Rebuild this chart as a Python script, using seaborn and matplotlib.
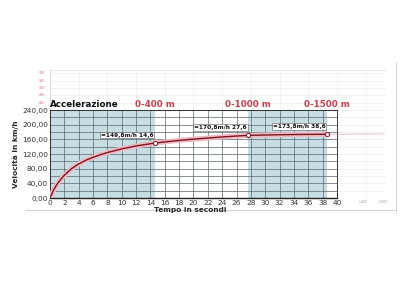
import matplotlib
matplotlib.use("Agg")
import matplotlib.pyplot as plt
import seaborn as sns
import pandas as pd
import numpy as np
from matplotlib.lines import Line2D

sns.set_style("white")
plt.rcParams['font.family'] = ['DejaVu Sans']

# ---- data ----
time_s = [0, 0.5, 1, 1.5, 2, 3, 4, 5, 6, 7, 8, 10, 12, 14.6, 16, 18, 20, 22, 24, 26, 27.6, 30, 32, 34, 36, 38.6]
speed_kmh = [0, 22, 38, 51, 62, 80, 93, 103, 111, 118, 124, 134, 142, 149.8, 153, 157, 160.5, 163.5, 166.5, 169, 170.8, 171.8, 172.5, 173.1, 173.5, 173.8]
mark_t = [14.6, 27.6, 38.6]
mark_v = [149.8, 170.8, 173.8]
mark_labels = ["=149,8m/h 14,6", "=170,8m/h 27,6", "=173,8m/h 38,6"]
section_titles = ["0-400 m", "0-1000 m", "0-1500 m"]
section_x = [14.6, 27.6, 38.6]
shaded_spans = [(0, 14.6), (27.6, 38.6)]
x_ticks = list(range(0, 41, 2))
y_ticks = [0, 40, 80, 120, 160, 200, 240]
bg_y_ticks = [260, 280, 300, 320, 340]
bg_x_ticks = [43.6, 46.4]
bg_x_labels = ["1.400", "1.600"]

W, H = 406, 290
fig = plt.figure(figsize=(W / 100, H / 100), dpi=100)

def rect(x0, y0, x1, y1):
    return [x0 / W, 1 - y1 / H, (x1 - x0) / W, (y1 - y0) / H]

# background faint panel
px_per_unit_x = (337 - 50) / 40.0
px_per_unit_y = (198 - 110) / 240.0
bg = fig.add_axes(rect(50, 70, 385, 198), zorder=0)
bg.set_xlim(0, (385 - 50) / px_per_unit_x)
bg.set_ylim(0, (198 - 70) / px_per_unit_y)
bg.set_xticks(np.arange(0, 47, 4))
bg.set_yticks(np.arange(0, 350, 20))
bg.grid(True, color="#ececec", linewidth=0.5)
bg.tick_params(length=0, labelleft=False, labelbottom=False)
for s in bg.spines.values():
    s.set_visible(False)
bg.spines['left'].set_visible(True)
bg.spines['left'].set_color("#d8d8d8")
bg.spines['left'].set_linewidth(0.6)
bg.spines['top'].set_visible(True)
bg.spines['top'].set_color("#e4e4e4")
bg.spines['top'].set_linewidth(0.6)
for v in bg_y_ticks:
    bg.text(-0.8, v, str(v), color="#d06070", fontsize=2.2, ha="right", va="center")
for xv, lab in zip(bg_x_ticks, bg_x_labels):
    bg.text(xv, -5, lab, color="#999999", fontsize=2.2, ha="center", va="top")
bg.plot([38.6, 46.6], [173.8, 174.5], color="#f3c9cf", linewidth=0.8)

# main axes
ax = fig.add_axes(rect(50, 110, 337, 198), zorder=2)
ax.patch.set_alpha(0)
for a, b in shaded_spans:
    ax.axvspan(a, b, color="#c7dde4", zorder=0, linewidth=0)
ax.set_xlim(0, 40)
ax.set_ylim(0, 240)
ax.set_xticks(x_ticks)
ax.set_yticks(np.arange(0, 241, 20))
ax.set_yticklabels([f"{v},00" if v in y_ticks else "" for v in range(0, 241, 20)])
ax.grid(True, color="#4d5a62", linewidth=0.45, zorder=1)
ax.tick_params(axis="both", length=0, labelsize=5.3, pad=1.5, colors="#333333")
for s in ax.spines.values():
    s.set_color("#222222")
    s.set_linewidth(0.6)
ax.spines['bottom'].set_linewidth(1.0)

df = pd.DataFrame({"t": time_s, "v": speed_kmh})
sns.lineplot(data=df, x="t", y="v", ax=ax, color="#f0b8c0", linewidth=3.6, zorder=3, legend=False)
sns.lineplot(data=df, x="t", y="v", ax=ax, color="#7c1422", linewidth=1.0, zorder=4, legend=False)
dm = pd.DataFrame({"t": mark_t, "v": mark_v})
sns.scatterplot(data=dm, x="t", y="v", ax=ax, s=9, facecolor="white", edgecolor="#7c1422", linewidth=0.7, zorder=5, legend=False)
for t, v, lab in zip(mark_t, mark_v, mark_labels):
    ax.annotate(lab, (t, v), xytext=(-1, 4), textcoords="offset points", ha="right", va="bottom",
                fontsize=4.2, fontweight="bold", color="#111111", zorder=6,
                bbox=dict(boxstyle="square,pad=0.15", fc="white", ec="#555555", lw=0.4))
ax.set_xlabel("")
ax.set_ylabel("Velocità in km/h", fontsize=5.3, fontweight="bold", labelpad=2)

ax.text(0, 243, "Accelerazione", fontsize=6.3, fontweight="bold", color="#111111", ha="left", va="bottom")
for xv, tt in zip(section_x, section_titles):
    ax.text(xv, 243, tt, fontsize=6.3, fontweight="bold", color="#c8404c", ha="center", va="bottom")

# outer frame lines
fig.add_artist(Line2D([25 / W, 396 / W], [1 - 210 / H, 1 - 210 / H], color="#cccccc", linewidth=0.6))
fig.add_artist(Line2D([396 / W, 396 / W], [1 - 62 / H, 1 - 212 / H], color="#cccccc", linewidth=0.6))

fig.text(190 / W, 1 - 210 / H, "Tempo in secondi", fontsize=5.3, fontweight="bold", ha="center", va="center")

fig.savefig("out.png", dpi=100)
